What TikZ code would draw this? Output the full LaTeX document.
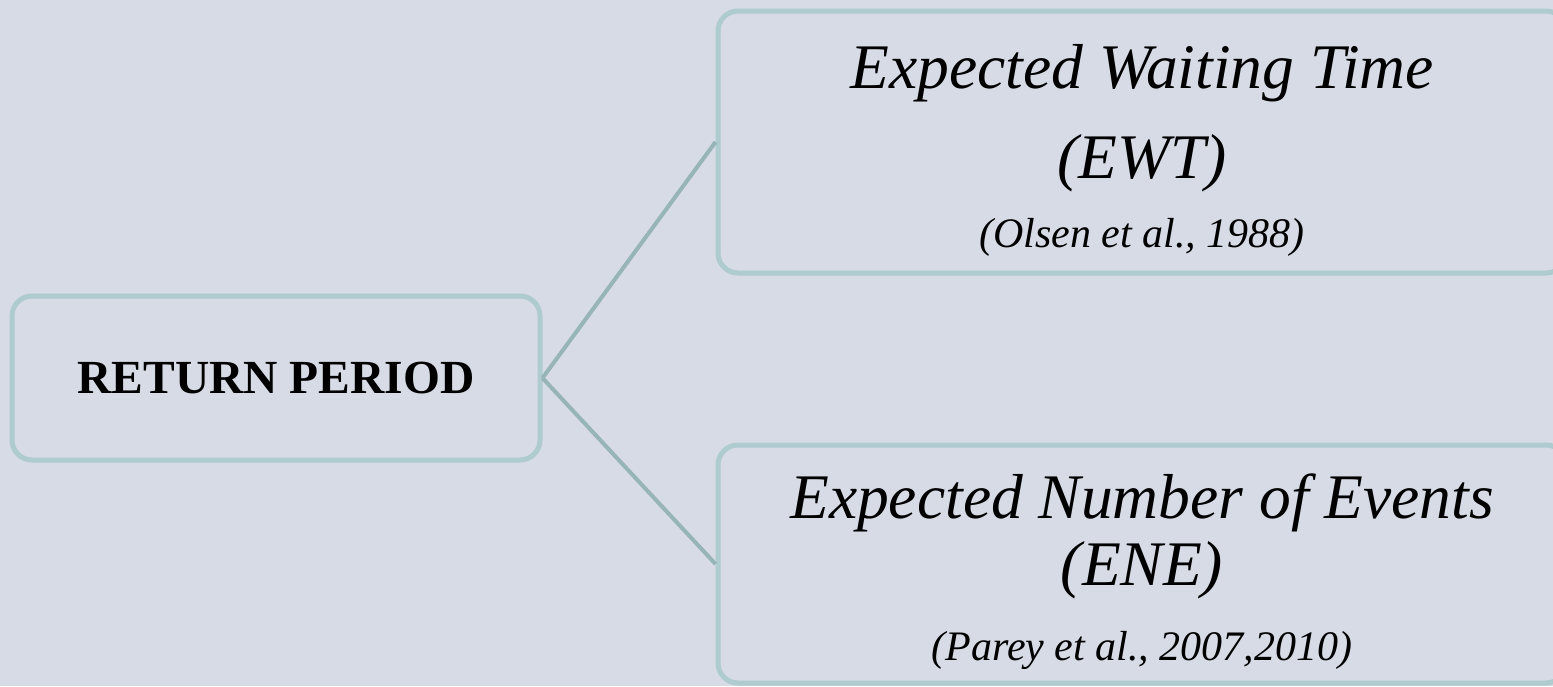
\documentclass[tikz,border=0pt]{standalone}
\usepackage{fontspec}
\setmainfont{Liberation Serif}
\usepackage{xcolor}
\definecolor{bgblue}{RGB}{214,219,229}
\definecolor{rimteal}{RGB}{174,203,207}
\definecolor{linkteal}{RGB}{151,181,184}
\tikzstyle{rbox}=[rectangle, draw=rimteal, line width=5pt, rounded corners=20pt, fill=bgblue, inner sep=0pt]
\tikzstyle{heading}=[inner sep=0pt, anchor=base, font=\fontsize{63.5}{70}\selectfont\itshape]
\tikzstyle{cite}=[inner sep=0pt, anchor=base, font=\fontsize{42}{46}\selectfont\itshape]
\tikzstyle{link}=[draw=linkteal, line width=4pt]
\newcommand{\rbox}{\node[rbox]}

\begin{document}
\begin{tikzpicture}[x=1pt,y=-1pt]
\useasboundingbox (0,0) rectangle (1553,686);
\fill[bgblue] (0,0) rectangle (1553,686);
% boxes
\rbox (ret) at (276,378)[minimum width=528pt, minimum height=164pt, font=\fontsize{47.5}{52}\selectfont\bfseries]{RETURN PERIOD};
\rbox (ewt) at (1142,142)[minimum width=848pt, minimum height=262pt]{};
\rbox (ene) at (1142,564)[minimum width=848pt, minimum height=238pt]{};
\draw[link] (ret.east) -- (ewt.west) (ret.east) -- (ene.west);
% texts
\node[heading] (ewt-a) at (1142,88) {Expected Waiting Time};
\node[heading] (ewt-b) at (1142,178) {(EWT)};
\node[cite] (ewt-c) at (1142,247) {(Olsen et al., 1988)};
\node[heading] (ene-a) at (1142,518) {Expected Number of Events};
\node[heading] (ene-b) at (1142,585) {(ENE)};
\node[cite] (ene-c) at (1142,660) {(Parey et al., 2007,2010)};
\end{tikzpicture}
\end{document}
